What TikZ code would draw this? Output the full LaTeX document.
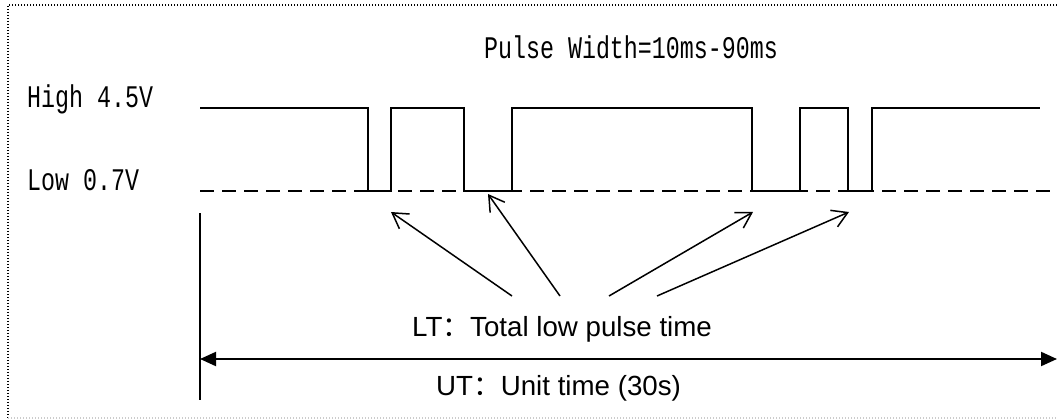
\documentclass[tikz,border=0pt]{standalone}
\usepackage{fontspec}
\setmainfont{Liberation Sans}
\newfontfamily\monof{Liberation Mono}
\newfontfamily\cjkf{Noto Sans CJK SC}
\usetikzlibrary{arrows.meta}
\begin{document}
\begin{tikzpicture}[x=1pt,y=-1pt,
  sig/.style={line width=2pt, line join=miter},
  lowline/.style={line width=2pt, dash pattern=on 14pt off 8pt},
  ptr/.style={line width=1.5pt, -{Straight Barb[length=15pt,width=18pt]}},
  spanarrow/.style={line width=2pt, {Triangle[length=16pt,width=14pt]}-{Triangle[length=16pt,width=14pt]}},
  mono/.style={inner sep=0pt, font=\monof\fontsize{23.3}{28}\selectfont},
  sans/.style={inner sep=0pt, font=\fontsize{27.7}{32}\selectfont},
  framedots/.style={line width=1.2pt, dash pattern=on 1.2pt off 1.8pt}]
\useasboundingbox (0,0) rectangle (1057,420);
% frame
\coordinate (fa) at (8,5);
\coordinate (fb) at (1057,5);
\coordinate (fc) at (8,418);
\coordinate (fd) at (1057,418);
\draw[framedots] (fb) -- (fa) -- (fc);
\draw[framedots, black!20] (fc) -- (fd);
% labels
\node[mono, anchor=base east] (pw) at (778,59) {\scalebox{1}[1.35]{Pulse Width=10ms-90ms}};
\node[mono, anchor=base west] (high) at (27,107) {\scalebox{1}[1.35]{High 4.5V}};
\node[mono, anchor=base west] (low) at (27,190) {\scalebox{1}[1.35]{Low 0.7V}};
% low reference line
\coordinate (d0) at (200,191);
\coordinate (d1) at (1050,191);
\draw[lowline] (d0) -- (d1);
% signal
\draw[sig] (200,108) -- (368,108) -- (368,191) -- (391,191) -- (391,108)
  -- (464,108) -- (464,191) -- (512,191) -- (512,108)
  -- (752,108) -- (752,191) -- (800,191) -- (800,108)
  -- (848,108) -- (848,191) -- (872,191) -- (872,108) -- (1040,108);
% pointer arrows
\coordinate (t1) at (512,296); \coordinate (h1) at (391,212);
\coordinate (t2) at (560,296); \coordinate (h2) at (488,194);
\coordinate (t3) at (609,296); \coordinate (h3) at (753,212);
\coordinate (t4) at (657,296); \coordinate (h4) at (849,212);
\draw[ptr] (t1) -- (h1);
\draw[ptr] (t2) -- (h2);
\draw[ptr] (t3) -- (h3);
\draw[ptr] (t4) -- (h4);
\node[sans, anchor=base west] (lt) at (412,336) {LT{\cjkf ：}Total low pulse time};
% unit time
\coordinate (v0) at (200,213);
\coordinate (v1) at (200,400);
\draw[line width=2pt] (v0) -- (v1);
\coordinate (u0) at (200,359);
\coordinate (u1) at (1057,359);
\draw[spanarrow] (u0) -- (u1);
\node[sans, anchor=base west] (ut) at (436,395) {UT{\cjkf ：}Unit time (30s)};
\end{tikzpicture}
\end{document}
